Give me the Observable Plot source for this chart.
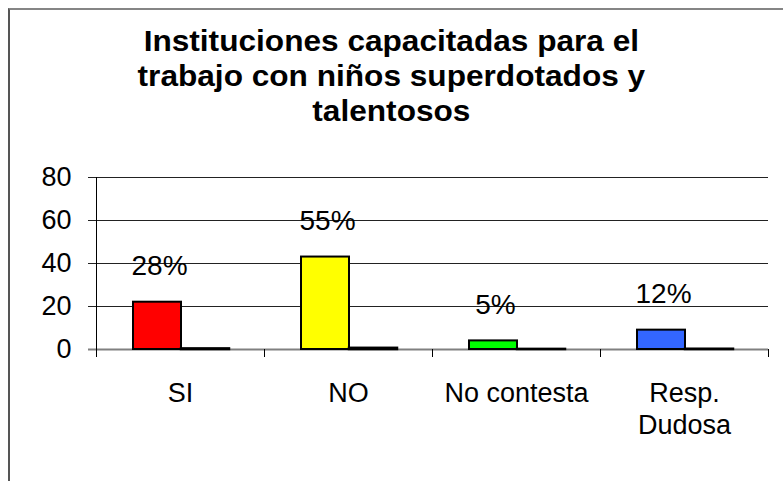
<!DOCTYPE html>
<html>
<head>
<meta charset="utf-8">
<script src="https://cdn.jsdelivr.net/npm/d3@7"></script>
<script src="https://cdn.jsdelivr.net/npm/@observablehq/plot@0.6"></script>
<style>
  html, body { margin: 0; padding: 0; background: #fff; }
  body { width: 783px; height: 481px; position: relative; overflow: hidden; font-family: "Liberation Sans", Arial, sans-serif; }
  #frame { position: absolute; left: 8px; top: 8px; width: 820px; height: 520px; border-top: 2px solid #858585; border-left: 2px solid #555; }
  #title { position: absolute; left: 0; top: 24px; width: 783px; text-align: center; font-weight: bold; font-size: 29px; line-height: 35px; color: #000; transform: scaleX(1.09); transform-origin: 393px 0; }
  #chart { position: absolute; left: 0; top: 140px; }
</style>
</head>
<body>
<div id="frame"></div>
<div id="title">Instituciones capacitadas para el<br>trabajo con niños superdotados y<br>talentosos</div>
<div id="chart"></div>
<script>
// Data
const categories = ["SI", "NO", "No contesta", "Resp.\nDudosa"];
const counts = [22, 43, 4, 9];
const fractions = [0.28, 0.55, 0.05, 0.12];
const percentLabels = ["28%", "55%", "5%", "12%"];
const barColors = ["#FF0000", "#FFFF00", "#00FF00", "#3366FF"];
const yTicks = [0, 20, 40, 60, 80];

const data = categories.map((c, i) => ({
  cat: c, count: counts[i], frac: fractions[i], label: percentLabels[i], color: barColors[i]
}));

const axisFrame = (index, scales, values, dims) => {
  const x = scales.x, y = scales.y;
  const bw = x(categories[1]) - x(categories[0]);
  const y0 = y(0);
  const g = d3.create("svg:g").attr("stroke", "#000").attr("stroke-width", 1).attr("fill", "none");
  const bounds = categories.map(c => x(c)).concat([x(categories[categories.length - 1]) + bw]);
  g.append("line").attr("x1", bounds[0] + 0.5).attr("x2", bounds[0] + 0.5)
    .attr("y1", y(80)).attr("y2", y0 + 8);
  bounds.slice(1).forEach(bx => {
    g.append("line").attr("x1", bx + 0.5).attr("x2", bx + 0.5).attr("y1", y0).attr("y2", y0 + 8);
  });
  return g.node();
};

const chart = Plot.plot({
  width: 783,
  height: 341,
  marginTop: 37,
  marginBottom: 132,
  marginLeft: 96,
  marginRight: 15,
  style: { fontFamily: "'Liberation Sans', Arial, sans-serif", background: "transparent", color: "#000", overflow: "visible" },
  x: { type: "band", domain: categories, padding: 0, label: null },
  y: { domain: [0, 80], label: null },
  marks: [
    Plot.ruleY([20, 40, 60, 80], { stroke: "#222", strokeWidth: 1, insetLeft: -8 }),
    Plot.ruleY([0], { stroke: "#808080", strokeWidth: 2, insetLeft: -8 }),
    axisFrame,
    Plot.barY(data, { x: "cat", y: "count", fill: "color", stroke: "#000", strokeWidth: 2, insetLeft: 37, insetRight: 83 }),
    Plot.barY(data, { x: "cat", y: "frac", fill: "#000", stroke: "#000", strokeWidth: 2.5, insetLeft: 85, insetRight: 35 }),
    Plot.text(data, { x: "cat", y: "count", text: "label", dx: -21, dy: -36, fontSize: 28, fill: "#000", textAnchor: "middle", lineAnchor: "middle" }),
    Plot.axisY({ ticks: yTicks, tickSize: 0, tickPadding: 25, fontSize: 27, tickFormat: d => String(d) }),
    Plot.axisX({ tickSize: 0, tickPadding: 29, fontSize: 27, lineHeight: 1.2 })
  ]
});
document.getElementById("chart").appendChild(chart);
</script>
</body>
</html>
